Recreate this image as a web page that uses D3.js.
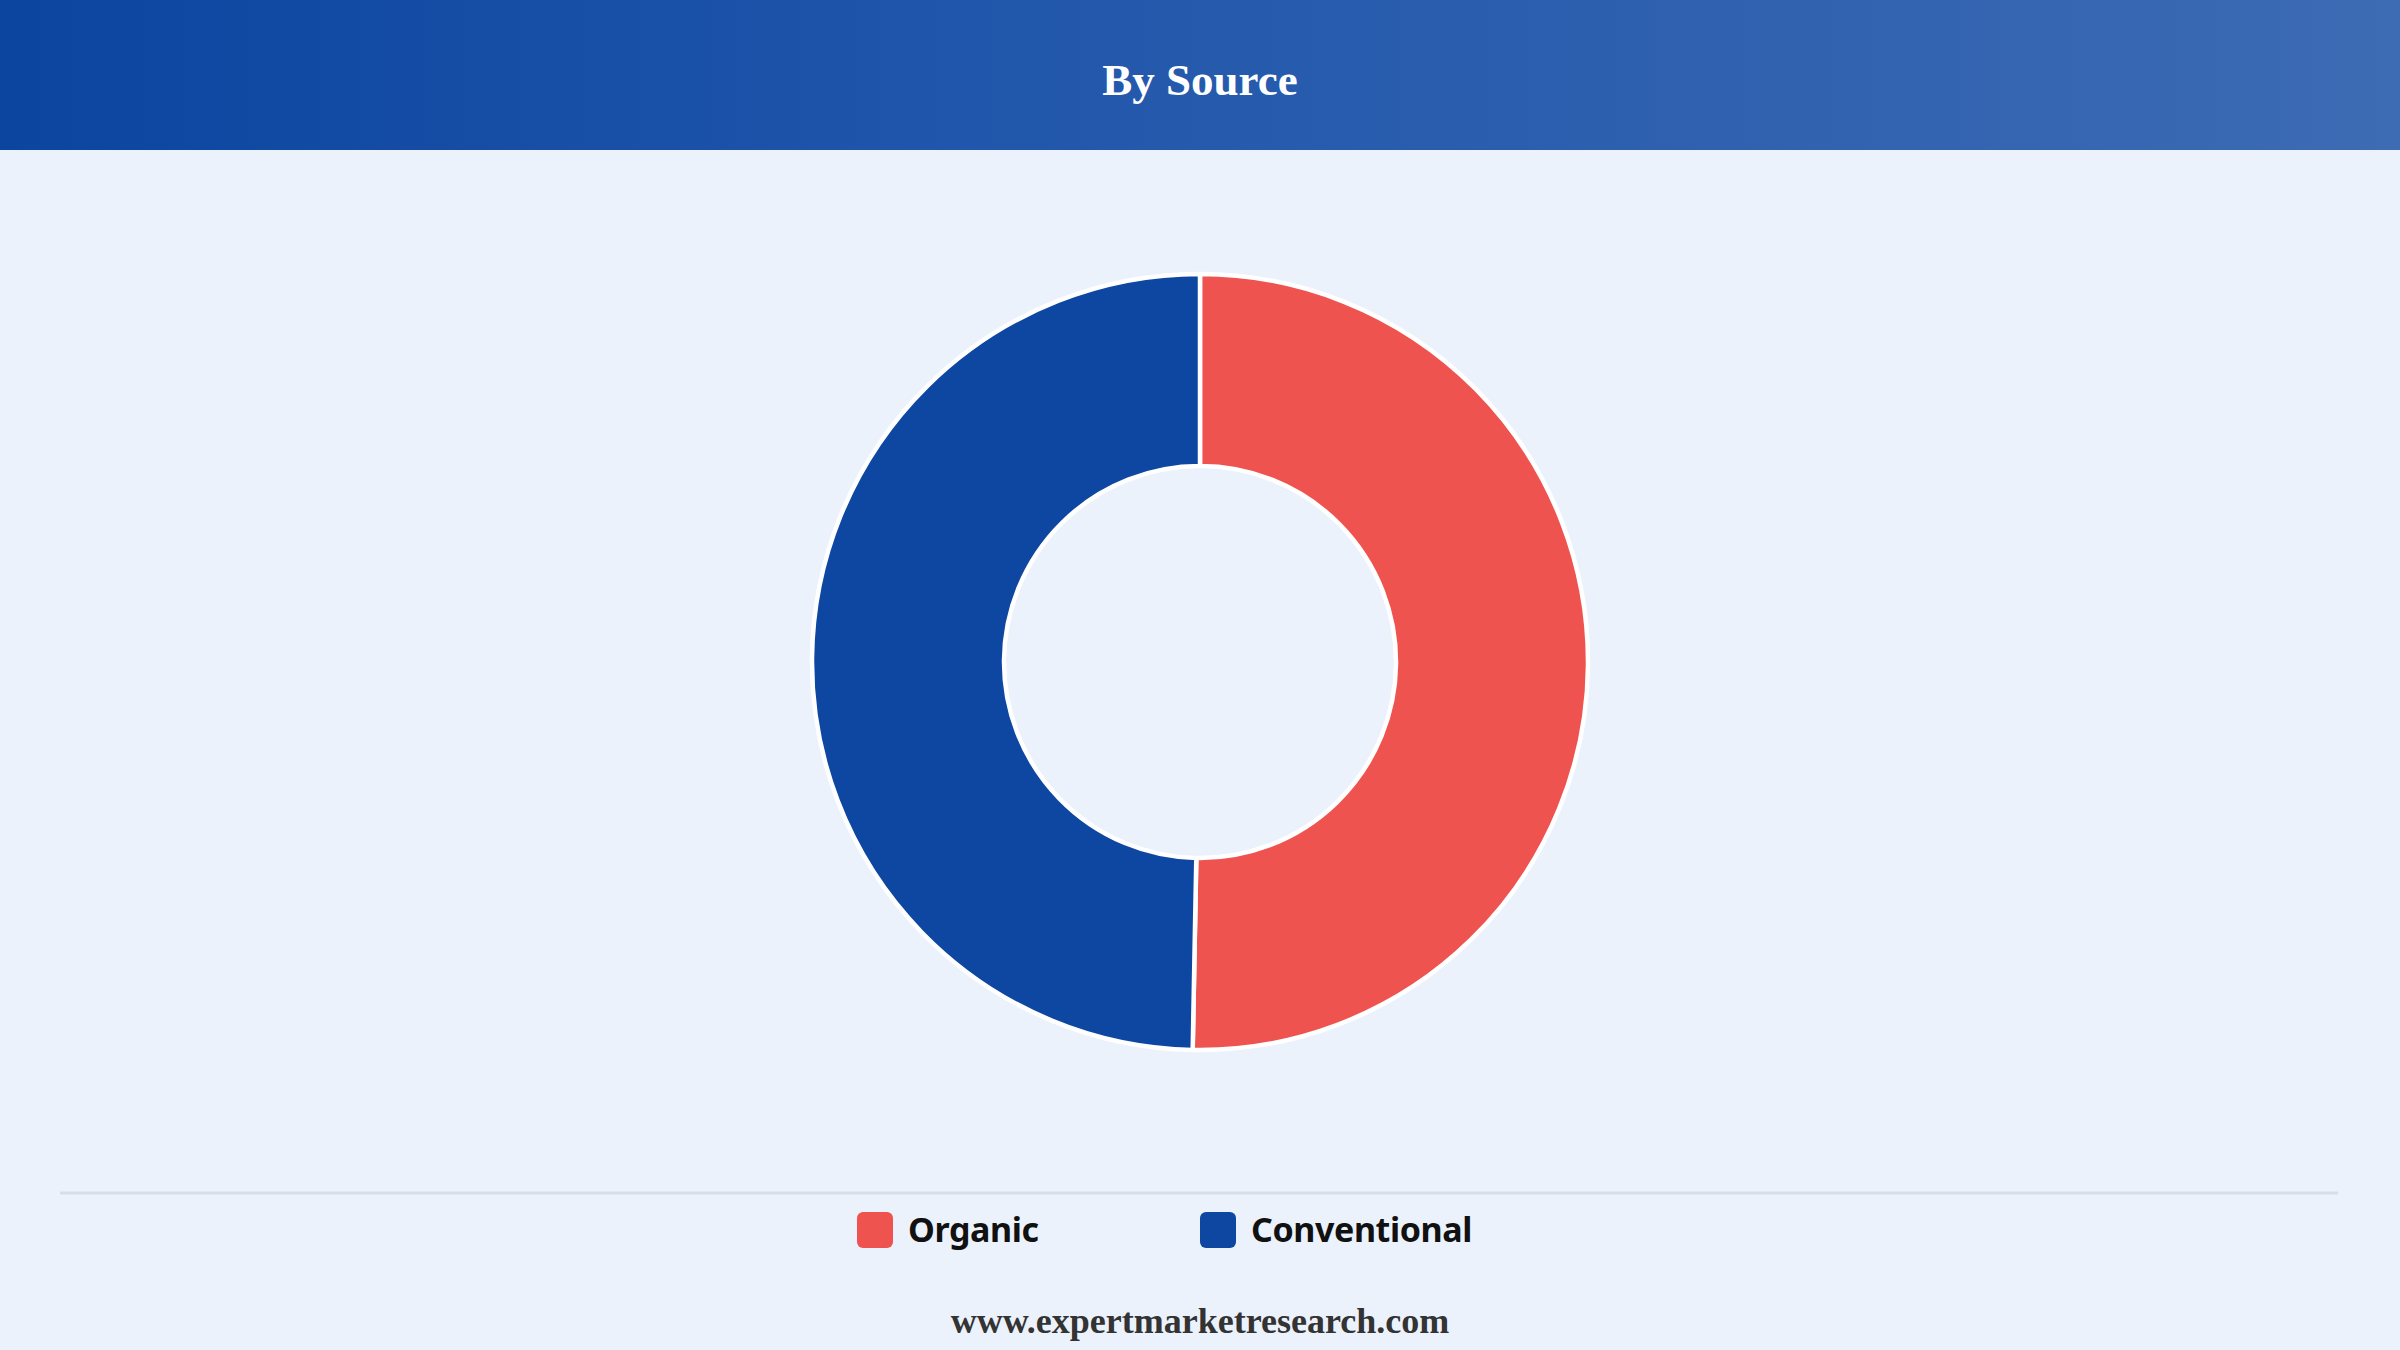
<!DOCTYPE html>
<html>
<head>
<meta charset="utf-8">
<script src="https://cdn.jsdelivr.net/npm/d3@7/dist/d3.min.js"></script>
<style>
  html, body { margin: 0; padding: 0; background: #EBF2FC; }
  svg { display: block; }
</style>
</head>
<body>
<svg id="chart" width="2400" height="1350"></svg>
<script>
const title = "By Source";
const categories = ["Organic", "Conventional"];
const shares = [50.3, 49.7];
const colors = ["#EF5350", "#0D47A1"];
const footer = "www.expertmarketresearch.com";

const W = 2400, H = 1350;
const svg = d3.select("#chart");

// background
svg.append("rect").attr("width", W).attr("height", H).attr("fill", "#EBF2FC");

// header gradient
const defs = svg.append("defs");
const grad = defs.append("linearGradient").attr("id", "hdr").attr("x1", "0%").attr("x2", "100%");
grad.append("stop").attr("offset", "0%").attr("stop-color", "#0B45A0");
grad.append("stop").attr("offset", "40%").attr("stop-color", "#2056AB");
grad.append("stop").attr("offset", "100%").attr("stop-color", "#3D6BB4");
svg.append("rect").attr("width", W).attr("height", 150).attr("fill", "url(#hdr)");

svg.append("text")
  .attr("x", W / 2).attr("y", 95)
  .attr("text-anchor", "middle")
  .attr("font-family", "'Liberation Serif', 'Times New Roman', serif")
  .attr("font-weight", "bold")
  .attr("font-size", 45)
  .attr("fill", "#ffffff")
  .text(title);

// donut
const cx = 1200, cy = 662, R = 388, r = 196;
const data = categories.map((c, i) => ({ name: c, value: shares[i], color: colors[i] }));
const pie = d3.pie().value(d => d.value).sort(null);
const arc = d3.arc().innerRadius(r).outerRadius(R);

svg.append("g").attr("transform", `translate(${cx},${cy})`)
  .selectAll("path")
  .data(pie(data))
  .join("path")
  .attr("d", arc)
  .attr("fill", d => d.data.color)
  .attr("stroke", "#ffffff")
  .attr("stroke-width", 4.5)
  .attr("stroke-linejoin", "round");

// separator line
svg.append("line")
  .attr("x1", 60).attr("x2", 2338)
  .attr("y1", 1193).attr("y2", 1193)
  .attr("stroke", "#DADDE3").attr("stroke-width", 3);

// legend
const legendX = d3.scalePoint().domain(categories).range([857, 1200]);
const lg = svg.append("g").selectAll("g")
  .data(data)
  .join("g")
  .attr("transform", d => `translate(${legendX(d.name)},1212)`);
lg.append("rect")
  .attr("width", 36).attr("height", 36).attr("rx", 6).attr("ry", 6)
  .attr("fill", d => d.color);
lg.append("text")
  .attr("x", 51).attr("y", 30)
  .attr("font-family", "'Noto Sans', 'Open Sans', sans-serif")
  .attr("font-weight", "bold")
  .attr("font-size", 34)
  .attr("letter-spacing", -0.4)
  .attr("fill", "#111111")
  .text(d => d.name);

// footer
svg.append("text")
  .attr("x", W / 2).attr("y", 1333)
  .attr("text-anchor", "middle")
  .attr("font-family", "'Liberation Serif', 'Times New Roman', serif")
  .attr("font-weight", "bold")
  .attr("font-size", 36)
  .attr("fill", "#333333")
  .text(footer);
</script>
</body>
</html>
